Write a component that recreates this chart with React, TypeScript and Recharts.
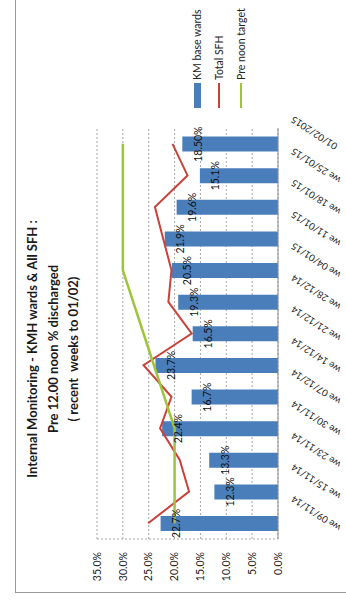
import React from 'react';
import {
  ComposedChart,
  Bar,
  Line,
  XAxis,
  YAxis,
  CartesianGrid,
  Legend,
  LabelList,
} from 'recharts';

// weeks, oldest first (the photo is turned 90° so they run bottom -> top)
const weeks = [
  'we 09/11/14',
  'we 15/11/14',
  'we 23/11/14',
  'we 30/11/14',
  'we 07/12/14',
  'we 14/12/14',
  'we 21/12/14',
  'we 28/12/14',
  'we 04/01/15',
  'we 11/01/15',
  'we 18/01/15',
  'we 25/01/15',
  '01/02/2015',
];
const kmBaseWards = [22.7, 12.3, 13.3, 22.4, 16.7, 23.7, 16.5, 19.3, 20.5, 21.9, 19.6, 15.1, 18.5];
const kmLabels = ['22.7%', '12.3%', '13.3%', '22.4%', '16.7%', '23.7%', '16.5%', '19.3%', '20.5%', '21.9%', '19.6%', '15.1%', '18.50%'];
const totalSfh = [25.1, 17.2, 19.0, 22.8, 20.6, 26.0, 16.7, 21.2, 20.6, 22.2, 23.8, 17.5, 20.4];
const preNoonTarget = [20, 20, 20, 20, 22, 24, 26, 28, 30, 30, 30, 30, 30];
const yTicks = [0, 5, 10, 15, 20, 25, 30, 35];

const titleLines = [
  'Internal Monitoring - KMH wards & All SFH :',
  'Pre 12.00 noon % discharged',
  '( recent  weeks to 01/02)',
];

const FONT = 'Lato, "Liberation Sans", sans-serif';
const BLUE = '#4A7EBB';
const RED = '#C8423A';
const GREEN = '#9DC43A';

const legendItems = [
  { name: 'KM base wards', color: BLUE, kind: 'bar' },
  { name: 'Total SFH', color: RED, kind: 'line' },
  { name: 'Pre noon target', color: GREEN, kind: 'line' },
];

const data = weeks.map((week, i) => ({
  week,
  km: kmBaseWards[i],
  kmLabel: kmLabels[i],
  sfh: totalSfh[i],
  target: preNoonTarget[i],
}));

const WeekTick = (props: any) => {
  const { x, y, payload } = props;
  return (
    <g transform={`translate(${x + 28},${y + 14})`}>
      <text textAnchor="end" transform="rotate(-57)" fontSize={9.5} fill="#222" fontFamily={FONT}>
        {payload.value}
      </text>
    </g>
  );
};

const ChartLegend = () => (
  <div style={{ fontFamily: FONT, fontSize: 10.5, color: '#222' }}>
    {legendItems.map((item) => (
      <div key={item.name} style={{ display: 'flex', alignItems: 'center', height: 22 }}>
        <span
          style={{
            display: 'inline-block',
            width: 25,
            height: item.kind === 'bar' ? 7 : 2,
            background: item.color,
            marginRight: 3,
          }}
        />
        <span>{item.name}</span>
      </div>
    ))}
  </div>
);

export default function App() {
  return (
    <div
      style={{
        position: 'absolute',
        left: 0,
        top: 0,
        width: 346,
        height: 603,
        overflow: 'hidden',
        background: '#fff',
      }}
    >
      {/* chart is drawn upright, then turned a quarter to match the photo */}
      <div
        style={{
          position: 'absolute',
          left: 0,
          top: 0,
          width: 603,
          height: 346,
          transformOrigin: '0 0',
          transform: 'translateY(603px) rotate(-90deg)',
        }}
      >
        <div
          style={{
            position: 'absolute',
            left: 10,
            top: 15,
            width: 640,
            height: 360,
            border: '1px solid #9a9a9a',
          }}
        />
        <div
          style={{
            position: 'absolute',
            left: 0,
            top: 22,
            width: 508,
            textAlign: 'center',
            fontFamily: FONT,
            fontWeight: 'bold',
            fontSize: 13,
            lineHeight: '20.5px',
            color: '#1a1a1a',
            whiteSpace: 'pre',
          }}
        >
          {titleLines.map((t) => (
            <div key={t}>{t}</div>
          ))}
        </div>
        <ComposedChart
          width={603}
          height={346}
          data={data}
          margin={{ top: 97, right: 128, bottom: 0, left: 0 }}
          style={{ position: 'absolute', left: 0, top: 0 }}
        >
          <CartesianGrid vertical={false} stroke="#a8a8a8" strokeDasharray="2 2" />
          <XAxis
            dataKey="week"
            height={68}
            interval={0}
            tickLine={false}
            tickSize={0}
            axisLine={{ stroke: '#8c8c8c' }}
            tick={<WeekTick />}
          />
          <YAxis
            width={64}
            domain={[0, 35]}
            ticks={yTicks}
            interval={0}
            tickLine={false}
            tickSize={0}
            tickMargin={13}
            axisLine={{ stroke: '#a8a8a8', strokeDasharray: '2 2' }}
            tickFormatter={(v: number) => `${v.toFixed(1)}%`}
            tick={{ fontSize: 10.5, fill: '#222', fontFamily: FONT }}
          />
          <Legend
            layout="vertical"
            align="center"
            verticalAlign="middle"
            content={<ChartLegend />}
            wrapperStyle={{ left: 495, top: 186, width: 110 }}
          />
          <Bar dataKey="km" name="KM base wards" fill={BLUE} barSize={15} isAnimationActive={false}>
            <LabelList
              dataKey="kmLabel"
              position="insideTop"
              offset={12}
              fontSize={10.5}
              fill="#111"
              fontFamily={FONT}
            />
          </Bar>
          <Line
            type="linear"
            dataKey="sfh"
            name="Total SFH"
            stroke={RED}
            strokeWidth={2}
            dot={false}
            isAnimationActive={false}
          />
          <Line
            type="linear"
            dataKey="target"
            name="Pre noon target"
            stroke={GREEN}
            strokeWidth={2.5}
            dot={false}
            isAnimationActive={false}
          />
        </ComposedChart>
      </div>
    </div>
  );
}
